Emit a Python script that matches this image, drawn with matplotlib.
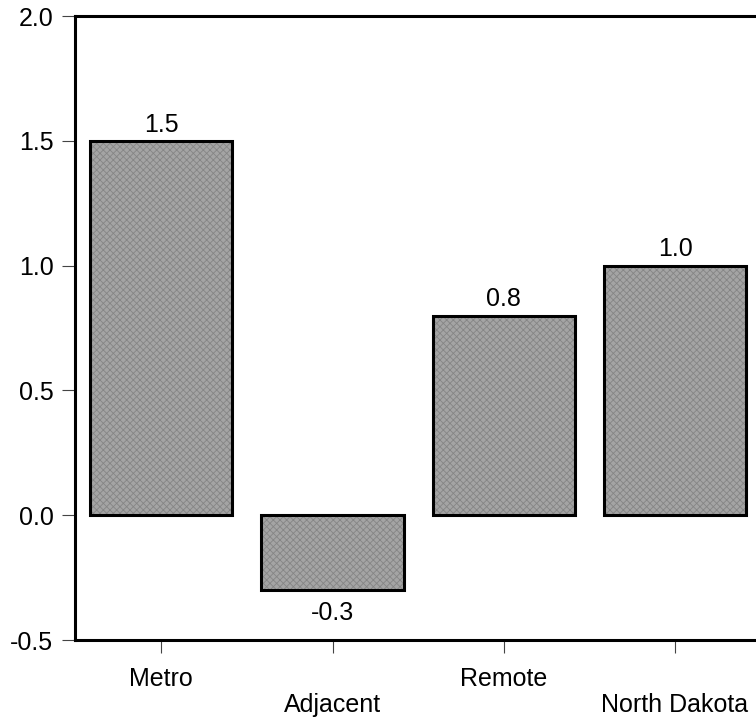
import numpy as np
import matplotlib.pyplot as plt

plt.rcParams['font.family'] = ['Liberation Sans', 'DejaVu Sans']

# data
regions = ['Metro', 'Adjacent', 'Remote', 'North Dakota']
values = [1.5, -0.3, 0.8, 1.0]
labels = ['1.5', '-0.3', '0.8', '1.0']

fig = plt.figure(figsize=(7.56, 7.21), dpi=100)
ax = fig.add_axes([75/756, 81/721, 681/756, 624/721])

x = np.arange(len(regions))
# textured grey fill, then the black outline on top
plt.rcParams['hatch.linewidth'] = 0.6
ax.bar(x, values, width=0.83, color='#a4a4a4', edgecolor='#858585',
       hatch='xxxxx', linewidth=0, zorder=2)
ax.bar(x, values, width=0.83, fill=False, edgecolor='black',
       linewidth=2.2, zorder=3)

for xi, v, lab in zip(x, values, labels):
    if v >= 0:
        ax.annotate(lab, (xi, v), xytext=(0, 3), textcoords='offset points',
                    ha='center', va='bottom', fontsize=18)
    else:
        ax.annotate(lab, (xi, v), xytext=(0, -8), textcoords='offset points',
                    ha='center', va='top', fontsize=18)

ax.set_xlim(-0.504, 3.473)
ax.set_ylim(-0.5, 2.0)
ax.set_yticks([-0.5, 0.0, 0.5, 1.0, 1.5, 2.0])
ax.set_yticklabels(['-0.5', '0.0', '0.5', '1.0', '1.5', '2.0'])

# staggered category labels
xt = [r if i % 2 == 0 else '\n' + r for i, r in enumerate(regions)]
ax.set_xticks(x)
ax.set_xticklabels(xt, linespacing=1.1)

ax.tick_params(axis='both', direction='out', length=9.5, width=0.8,
               color='#444444', labelsize=18, pad=6)
ax.tick_params(axis='x', pad=10)

for s in ['left', 'bottom', 'top']:
    ax.spines[s].set_linewidth(2.2)
ax.spines['right'].set_visible(False)

fig.savefig('out.png', dpi=100)
